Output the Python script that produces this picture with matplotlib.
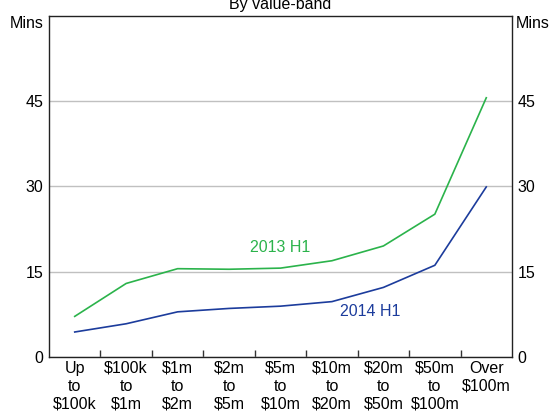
import matplotlib
matplotlib.use("Agg")
import matplotlib.pyplot as plt

plt.rcParams['font.family'] = ['Liberation Sans', 'DejaVu Sans']

categories = ["Up\nto\n$100k", "$100k\nto\n$1m", "$1m\nto\n$2m", "$2m\nto\n$5m",
              "$5m\nto\n$10m", "$10m\nto\n$20m", "$20m\nto\n$50m", "$50m\nto\n$100m",
              "Over\n$100m\n"]
h1_2013 = [7.1, 12.9, 15.5, 15.4, 15.6, 16.9, 19.5, 25.1, 45.6]
h1_2014 = [4.35, 5.8, 7.9, 8.5, 8.9, 9.7, 12.2, 16.1, 29.9]
yticks = [0, 15, 30, 45]

green = '#2bb34b'
blue = '#1c3c9c'

fig = plt.figure(figsize=(5.52, 4.17), dpi=100)
ax = fig.add_axes([49/552, 1-356.7/417, (512-49)/552, (356.7-16)/417])

x = list(range(len(categories)))
ax.plot(x, h1_2013, color=green, lw=1.2, solid_joinstyle='round')
ax.plot(x, h1_2014, color=blue, lw=1.2, solid_joinstyle='round')

ax.set_xlim(-0.5, 8.5)
ax.set_ylim(0, 60)
ax.set_yticks(yticks)
ax.yaxis.grid(True, color='#c0c0c0', lw=1)
ax.set_axisbelow(True)
ax.tick_params(axis='y', length=0, labelsize=11.5, pad=4, labelleft=True, labelright=True)

ax.set_xticks([i + 0.5 for i in range(len(categories) - 1)])
ax.set_xticks(x, minor=True)
ax.set_xticklabels([])
ax.set_xticklabels(categories, minor=True, linespacing=1.25)
ax.tick_params(axis='x', which='major', direction='in', length=5, width=1, color='#333333')
ax.tick_params(axis='x', which='minor', length=0, labelsize=11.5, pad=3)

for s in ax.spines.values():
    s.set_color('#222222')
    s.set_linewidth(1)

ax.text(4.0, 19.2, "2013 H1", color=green, fontsize=11.5, ha='center', va='center')
ax.text(5.75, 7.9, "2014 H1", color=blue, fontsize=11.5, ha='center', va='center')

fig.text(44/552, 1-23/417, "Mins", ha='right', va='center', fontsize=11.5)
fig.text(516/552, 1-23/417, "Mins", ha='left', va='center', fontsize=11.5)
fig.text(280/552, 1-8.5/417, "By value-band", ha='center', va='baseline', fontsize=11.5)

fig.savefig("out.png", dpi=100)
